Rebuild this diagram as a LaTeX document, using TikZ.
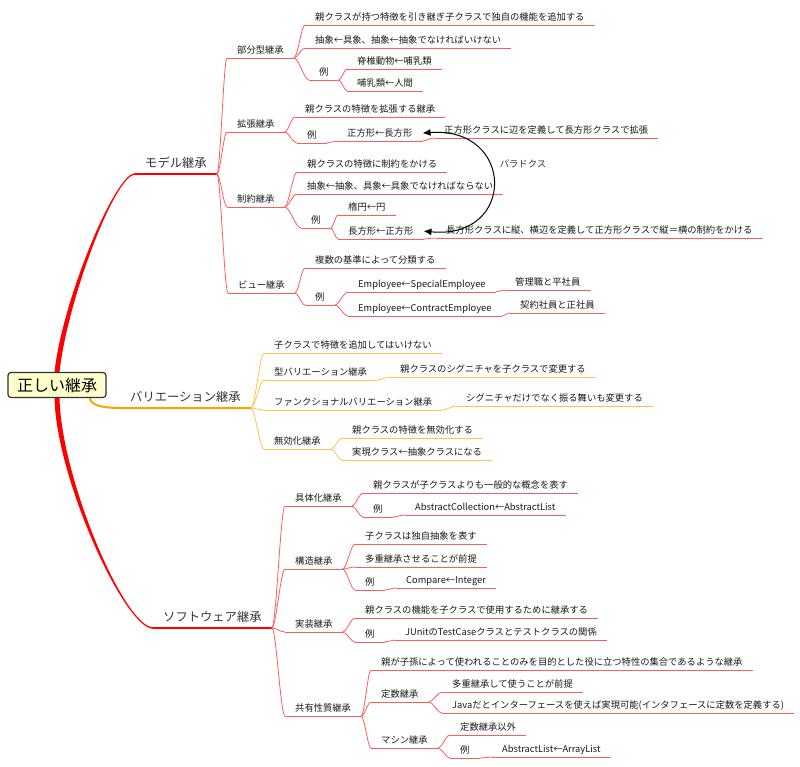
\documentclass[tikz,border=0pt]{standalone}
\usepackage{fontspec}
\setmainfont{Noto Sans CJK JP}
\usepackage{xcolor}
\usetikzlibrary{arrows.meta,calc,backgrounds}
\definecolor{mapred}{HTML}{FF0000}
\definecolor{mapredlight}{HTML}{FF5C5C}
\definecolor{maporange}{HTML}{FFA200}
\definecolor{maporangelight}{HTML}{FFC24A}
\definecolor{rootfill}{HTML}{FFFFCC}
\tikzset{
  rootnode/.style={
    draw=black!80,
    line width=1.2pt,
    rounded corners=3pt,
    fill=rootfill,
    minimum width=98pt,
    minimum height=25pt,
    inner sep=0pt,
    font=\fontsize{16}{18}\selectfont
  },
  branch/.style={
    anchor=south west,
    inner xsep=10pt,
    inner ysep=4pt,
    text height=10pt,
    text depth=2pt,
    text=black!80,
    font=\fontsize{12.3}{14}\selectfont
  },
  topic/.style={
    anchor=south west,
    inner xsep=10pt,
    inner ysep=3pt,
    text height=8pt,
    text depth=1.4pt,
    text=black!90,
    font=\fontsize{9.3}{11}\selectfont
  },
  linklabel/.style={
    inner sep=0pt,
    text=black!80,
    font=\fontsize{9.3}{11}\selectfont
  },
  fork/.style={
    to path={.. controls ($(\tikztostart)!1/3!(\tikztostart -| \tikztotarget)$)
      and ($(\tikztotarget)!1/3!(\tikztotarget -| \tikztostart)$) .. (\tikztotarget)}
  },
  redline/.style={draw=mapredlight, line width=0.8pt},
  orangeline/.style={draw=maporangelight, line width=0.8pt}
}

\begin{document}
\begin{tikzpicture}[x=1pt,y=-1pt]
  \useasboundingbox (0,0) rectangle (800,767);

  \node[rootnode] (root) at (57,385) {正しい継承};
  \node[branch] (model) at (135,174) {モデル継承};
  \node[branch] (vari) at (120,408) {バリエーション継承};
  \node[branch] (soft) at (153,628) {ソフトウェア継承};

  % model
  \node[topic] (partial) at (227,58) {部分型継承};
  \node[topic] (partdesc) at (305,25) {親クラスが持つ特徴を引き継ぎ子クラスで独自の機能を追加する};
  \node[topic] (partrule) at (305,48) {抽象←具象、抽象←抽象でなければいけない};
  \node[topic] (partex) at (309,80) {例};
  \node[topic] (partex1) at (347,69) {脊椎動物←哺乳類};
  \node[topic] (partex2) at (347,91) {哺乳類←人間};

  \node[topic] (extend) at (227,132) {拡張継承};
  \node[topic] (extdesc) at (295,117) {親クラスの特徴を拡張する継承};
  \node[topic] (extex) at (297,143) {例};
  \node[topic] (extex1) at (337,141) {正方形←長方形};
  \node[topic] (extex2) at (434,138) {正方形クラスに辺を定義して長方形クラスで拡張};

  \node[topic] (restrict) at (227,207) {制約継承};
  \node[topic] (resdesc) at (297,172) {親クラスの特徴に制約をかける};
  \node[topic] (resrule) at (297,194) {抽象←抽象、具象←具象でなければならない};
  \node[topic] (resex) at (301,228) {例};
  \node[topic] (resex1) at (338,215) {楕円←円};
  \node[topic] (resex2) at (338,239) {長方形←正方形};
  \node[topic] (resex3) at (436,238) {長方形クラスに縦、横辺を定義して正方形クラスで縦＝横の制約をかける};

  \node[topic] (view) at (228,293) {ビュー継承};
  \node[topic] (viewdesc) at (305,268) {複数の基準によって分類する};
  \node[topic] (viewex) at (305,305) {例};
  \node[topic] (viewex1) at (348,292) {Employee←SpecialEmployee};
  \node[topic] (viewex1a) at (505,290) {管理職と平社員};
  \node[topic] (viewex2) at (348,316) {Employee←ContractEmployee};
  \node[topic] (viewex2a) at (510,313) {契約社員と正社員};

  \node[linklabel] (paradox) at (523,164) {パラドクス};

  % variation
  \node[topic] (noadd) at (264,353) {子クラスで特徴を追加してはいけない};
  \node[topic] (typevar) at (264,380) {型バリエーション継承};
  \node[topic] (typevara) at (390,377) {親クラスのシグニチャを子クラスで変更する};
  \node[topic] (funcvar) at (264,410) {ファンクショナルバリエーション継承};
  \node[topic] (funcvara) at (456,406) {シグニチャだけでなく振る舞いも変更する};
  \node[topic] (nullify) at (264,449) {無効化継承};
  \node[topic] (nulldesc) at (342,438) {親クラスの特徴を無効化する};
  \node[topic] (nullreal) at (342,460) {実現クラス←抽象クラスになる};

  % software
  \node[topic] (spec) at (285,506) {具体化継承};
  \node[topic] (specdesc) at (363,493) {親クラスが子クラスよりも一般的な概念を表す};
  \node[topic] (specex) at (363,517) {例};
  \node[topic] (specex1) at (405,515) {AbstractCollection←AbstractList};

  \node[topic] (struct) at (285,569) {構造継承};
  \node[topic] (structdesc) at (355,544) {子クラスは独自抽象を表す};
  \node[topic] (structmulti) at (355,567) {多重継承させることが前提};
  \node[topic] (structex) at (355,590) {例};
  \node[topic] (structex1) at (396,588) {Compare←Integer};

  \node[topic] (impl) at (285,632) {実装継承};
  \node[topic] (impldesc) at (355,618) {親クラスの機能を子クラスで使用するために継承する};
  \node[topic] (implex) at (355,642) {例};
  \node[topic] (implex1) at (395,640) {JUnitのTestCaseクラスとテストクラスの関係};

  \node[topic] (shared) at (285,716) {共有性質継承};
  \node[topic] (shareddesc) at (371,670) {親が子孫によって使われることのみを目的とした役に立つ特性の集合であるような継承};
  \node[topic] (const) at (371,702) {定数継承};
  \node[topic] (constmulti) at (442,692) {多重継承して使うことが前提};
  \node[topic] (constjava) at (442,713) {Javaだとインターフェースを使えば実現可能(インタフェースに定数を定義する)};
  \node[topic] (machine) at (371,748) {マシン継承};
  \node[topic] (machineother) at (450,735) {定数継承以外};
  \node[topic] (machineex) at (450,758) {例};
  \node[topic] (machineex1) at (492,757) {AbstractList←ArrayList};

  \begin{scope}[on background layer]
    % main branches
    \fill[mapred] ([xshift=-2.5pt]root.north) .. controls +(8,-72) and +(-20,0) .. ([yshift=0.75pt]model.south west)
      -- ([yshift=-0.75pt]model.south west) .. controls +(-20,0) and +(8,-72) .. ([xshift=2.5pt]root.north) -- cycle;
    \fill[mapred] ([xshift=2.5pt]root.south) .. controls +(2,82) and +(-28,0) .. ([yshift=0.75pt]soft.south west)
      -- ([yshift=-0.75pt]soft.south west) .. controls +(-28,0) and +(2,82) .. ([xshift=-2.5pt]root.south) -- cycle;
    \draw[maporange, line width=2pt] ([xshift=33pt]root.south) .. controls +(0,8) and +(-14,0) .. (vari.south west)
      -- (vari.south east);
    \draw[mapred, line width=1.5pt] (model.south west) -- (model.south east);
    \draw[mapred, line width=1.5pt] (soft.south west) -- (soft.south east);

    \path[redline]
      (model.south east) edge[fork] (partial.south west)
      (model.south east) edge[fork] (extend.south west)
      (model.south east) edge[fork] (restrict.south west)
      (model.south east) edge[fork] (view.south west)
      (partial.south east) edge[fork] (partdesc.south west)
      (partial.south east) edge[fork] (partrule.south west)
      (partial.south east) edge[fork] (partex.south west)
      (partex.south east) edge[fork] (partex1.south west)
      (partex.south east) edge[fork] (partex2.south west)
      (extend.south east) edge[fork] (extdesc.south west)
      (extend.south east) edge[fork] (extex.south west)
      (extex.south east) edge[fork] (extex1.south west)
      (extex1.south east) edge[fork] (extex2.south west)
      (restrict.south east) edge[fork] (resdesc.south west)
      (restrict.south east) edge[fork] (resrule.south west)
      (restrict.south east) edge[fork] (resex.south west)
      (resex.south east) edge[fork] (resex1.south west)
      (resex.south east) edge[fork] (resex2.south west)
      (resex2.south east) edge[fork] (resex3.south west)
      (view.south east) edge[fork] (viewdesc.south west)
      (view.south east) edge[fork] (viewex.south west)
      (viewex.south east) edge[fork] (viewex1.south west)
      (viewex.south east) edge[fork] (viewex2.south west)
      (viewex1.south east) edge[fork] (viewex1a.south west)
      (viewex2.south east) edge[fork] (viewex2a.south west);

    \path[orangeline]
      (vari.south east) edge[fork] (noadd.south west)
      (vari.south east) edge[fork] (typevar.south west)
      (vari.south east) edge[fork] (funcvar.south west)
      (vari.south east) edge[fork] (nullify.south west)
      (typevar.south east) edge[fork] (typevara.south west)
      (funcvar.south east) edge[fork] (funcvara.south west)
      (nullify.south east) edge[fork] (nulldesc.south west)
      (nullify.south east) edge[fork] (nullreal.south west);

    \path[redline]
      (soft.south east) edge[fork] (spec.south west)
      (soft.south east) edge[fork] (struct.south west)
      (soft.south east) edge[fork] (impl.south west)
      (soft.south east) edge[fork] (shared.south west)
      (spec.south east) edge[fork] (specdesc.south west)
      (spec.south east) edge[fork] (specex.south west)
      (specex.south east) edge[fork] (specex1.south west)
      (struct.south east) edge[fork] (structdesc.south west)
      (struct.south east) edge[fork] (structmulti.south west)
      (struct.south east) edge[fork] (structex.south west)
      (structex.south east) edge[fork] (structex1.south west)
      (impl.south east) edge[fork] (impldesc.south west)
      (impl.south east) edge[fork] (implex.south west)
      (implex.south east) edge[fork] (implex1.south west)
      (shared.south east) edge[fork] (shareddesc.south west)
      (shared.south east) edge[fork] (const.south west)
      (shared.south east) edge[fork] (machine.south west)
      (const.south east) edge[fork] (constmulti.south west)
      (const.south east) edge[fork] (constjava.south west)
      (machine.south east) edge[fork] (machineother.south west)
      (machine.south east) edge[fork] (machineex.south west)
      (machineex.south east) edge[fork] (machineex1.south west);

    % underlines
    \foreach \n in {partial,partdesc,partrule,partex,partex1,partex2,
                    extend,extdesc,extex,extex1,extex2,
                    restrict,resdesc,resrule,resex,resex1,resex2,resex3,
                    view,viewdesc,viewex,viewex1,viewex1a,viewex2,viewex2a,
                    spec,specdesc,specex,specex1,
                    struct,structdesc,structmulti,structex,structex1,
                    impl,impldesc,implex,implex1,
                    shared,shareddesc,const,constmulti,constjava,
                    machine,machineother,machineex,machineex1}
      \draw[redline] (\n.south west) -- (\n.south east);
    \foreach \n in {noadd,typevar,typevara,funcvar,funcvara,nullify,nulldesc,nullreal}
      \draw[orangeline] (\n.south west) -- (\n.south east);
  \end{scope}

  % paradox link
  \draw[{Latex[length=8pt,width=7pt]}-{Latex[length=8pt,width=7pt]}, line width=1pt, black]
    (extex1.east) .. controls +(93,-7) and +(93,9) .. (resex2.east);
\end{tikzpicture}
\end{document}
